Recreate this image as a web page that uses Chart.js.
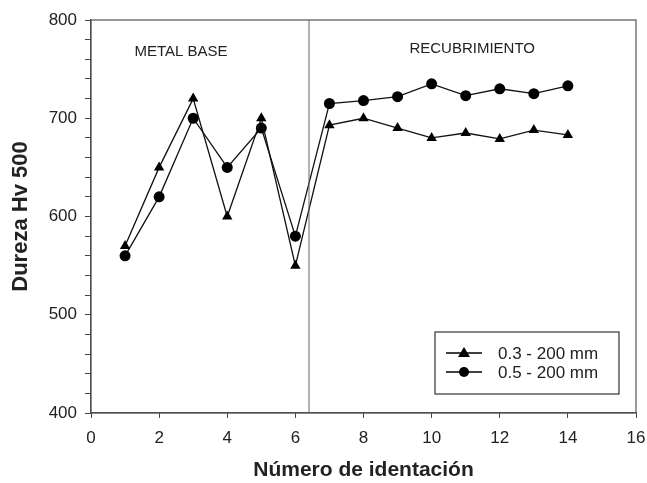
<!DOCTYPE html>
<html>
<head>
<meta charset="utf-8">
<script src="https://cdn.jsdelivr.net/npm/chart.js@4.4.1/dist/chart.umd.min.js"></script>
<style>
  body { margin: 0; background: #fff; }
  canvas { display: block; }
</style>
</head>
<body>
<canvas id="durezaChart" width="647" height="483"></canvas>
<script>
// datos
const indentaciones = [1, 2, 3, 4, 5, 6, 7, 8, 9, 10, 11, 12, 13, 14];
const serie03 = [570, 650, 720, 600, 700, 550, 693, 700, 690, 680, 685, 679, 688, 683];
const serie05 = [560, 620, 700, 650, 690, 580, 715, 718, 722, 735, 723, 730, 725, 733];
const nombresSeries = ["0.3 - 200 mm", "0.5 - 200 mm"];
const ticksX = [0, 2, 4, 6, 8, 10, 12, 14, 16];
const ticksY = [400, 500, 600, 700, 800];
const divisionX = 6.4;
const zonas = [
  { texto: "METAL BASE", x: 2.64, y: 768 },
  { texto: "RECUBRIMIENTO", x: 11.19, y: 771 },
];

const FONT = "'Liberation Sans', Arial, sans-serif";
const INK = "#222";

document.addEventListener("DOMContentLoaded", function () {
  const ctx = document.getElementById("durezaChart").getContext("2d");

  const marcoPlugin = {
    id: "marco",
    afterDatasetsDraw(chart) {
      const c = chart.ctx;
      const a = chart.chartArea;
      const xs = chart.scales.x;
      c.save();
      // marco del area
      c.strokeStyle = "#555";
      c.lineWidth = 1.2;
      c.strokeRect(a.left, a.top, a.right - a.left, a.bottom - a.top);
      // linea divisoria
      const px = xs.getPixelForValue(divisionX);
      c.beginPath();
      c.moveTo(px, a.top);
      c.lineTo(px, a.bottom);
      c.strokeStyle = "#666";
      c.lineWidth = 1;
      c.stroke();
      // textos de zonas
      c.fillStyle = INK;
      c.font = "15px " + FONT;
      c.textAlign = "center";
      c.textBaseline = "middle";
      zonas.forEach(z => {
        c.fillText(z.texto, xs.getPixelForValue(z.x), chart.scales.y.getPixelForValue(z.y));
      });
      // leyenda
      const bx = a.right - 201, by = a.bottom - 81, bw = 184, bh = 62;
      c.fillStyle = "#fff";
      c.fillRect(bx, by, bw, bh);
      c.strokeStyle = "#333";
      c.lineWidth = 1.2;
      c.strokeRect(bx, by, bw, bh);
      chart.data.datasets.forEach((ds, i) => {
        const ly = by + 21 + i * 19;
        c.beginPath();
        c.moveTo(bx + 11, ly);
        c.lineTo(bx + 47, ly);
        c.strokeStyle = "#000";
        c.lineWidth = 1.3;
        c.stroke();
        c.fillStyle = "#000";
        if (ds.pointStyle === "triangle") {
          c.beginPath();
          c.moveTo(bx + 29, ly - 6);
          c.lineTo(bx + 35, ly + 4);
          c.lineTo(bx + 23, ly + 4);
          c.closePath();
          c.fill();
        } else {
          c.beginPath();
          c.arc(bx + 29, ly, 5, 0, Math.PI * 2);
          c.fill();
        }
        c.fillStyle = INK;
        c.font = "17px " + FONT;
        c.textAlign = "left";
        c.fillText(ds.label, bx + 63, ly + 1);
      });
      c.restore();
    },
  };

  new Chart(ctx, {
    type: "line",
    data: {
      datasets: [
        {
          label: nombresSeries[0],
          data: indentaciones.map((x, i) => ({ x: x, y: serie03[i] })),
          borderColor: "#111",
          backgroundColor: "#000",
          borderWidth: 1.3,
          pointStyle: "triangle",
          pointRadius: 6,
          pointBorderWidth: 0,
          tension: 0,
        },
        {
          label: nombresSeries[1],
          data: indentaciones.map((x, i) => ({ x: x, y: serie05[i] })),
          borderColor: "#111",
          backgroundColor: "#000",
          borderWidth: 1.3,
          pointStyle: "circle",
          pointRadius: 5.5,
          pointBorderWidth: 0,
          tension: 0,
        },
      ],
    },
    options: {
      responsive: false,
      animation: false,
      layout: { padding: { left: 0, right: 11, top: 20, bottom: 0 } },
      plugins: {
        legend: { display: false },
        tooltip: { enabled: false },
      },
      scales: {
        x: {
          type: "linear",
          min: 0,
          max: 16,
          afterBuildTicks: s => { s.ticks = ticksX.map(v => ({ value: v })); },
          afterFit: s => {
            s.height = 70;
            s.paddingLeft = 0;
            s.paddingRight = 0;
          },
          ticks: { color: INK, font: { size: 17, family: FONT }, padding: 10, maxRotation: 0 },
          grid: { drawOnChartArea: false, tickLength: 5, tickColor: "#444" },
          border: { color: "#444", width: 1.2 },
          title: {
            display: true,
            text: "Número de identación",
            color: INK,
            font: { size: 21, weight: "bold", family: FONT },
            padding: { top: 10, bottom: 0 },
          },
        },
        y: {
          min: 400,
          max: 800,
          ticks: {
            stepSize: 20,
            autoSkip: false,
            color: INK,
            font: { size: 17, family: FONT },
            padding: 8,
            callback: v => (ticksY.includes(v) ? v : ""),
          },
          afterFit: s => {
            s.width = 91;
            s.paddingTop = 0;
            s.paddingBottom = 0;
          },
          grid: { drawOnChartArea: false, tickLength: 6, tickColor: "#444" },
          border: { color: "#444", width: 1.2 },
          title: {
            display: true,
            text: "Dureza Hv 500",
            color: INK,
            font: { size: 22, weight: "bold", family: FONT },
            padding: { top: 8, bottom: 4 },
          },
        },
      },
    },
    plugins: [marcoPlugin],
  });
});
</script>
</body>
</html>
